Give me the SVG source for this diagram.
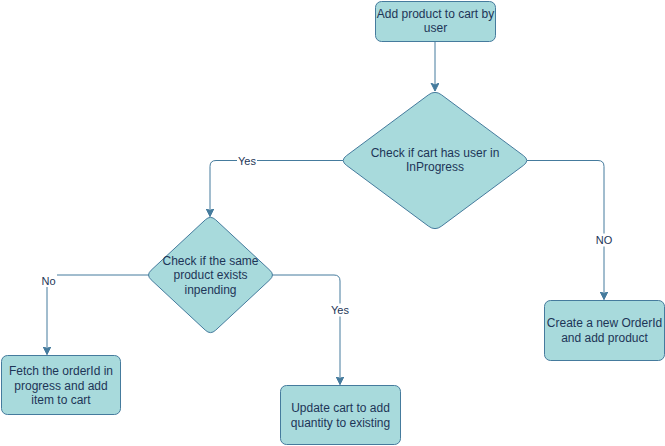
<svg xmlns="http://www.w3.org/2000/svg" width="665" height="446" viewBox="0 0 665 446">
<defs>
<marker id="arr" markerWidth="10" markerHeight="10" refX="8" refY="4" orient="auto" markerUnits="userSpaceOnUse">
<path d="M0,0 L8,4 L0,8 L2,4 Z" fill="#457B9D" stroke="#457B9D" stroke-width="1"/>
</marker>
<style>
.box{fill:#A8DADC;stroke:#457B9D;stroke-width:1}
.t{font-family:"Liberation Sans",Arial,sans-serif;font-size:12px;fill:#1D3557;text-anchor:middle}
.lbl{font-family:"Liberation Sans",Arial,sans-serif;font-size:11px;fill:#1D3557;text-anchor:middle}
.lbg{fill:#ffffff}
.edge{fill:none;stroke:#457B9D;stroke-width:1;marker-end:url(#arr)}
</style>
</defs>
<rect width="665" height="446" fill="#ffffff"/>
<g id="connectors">
<path class="edge" d="M435,41 V91"/>
<path class="edge" d="M343,160.5 H216 Q210,160.5 210,166.5 V216.5"/>
<path class="edge" d="M149,275 H53 Q47,275 47,281 V354.5"/>
<path class="edge" d="M272,275 H334 Q340,275 340,281 V384.5"/>
<path class="edge" d="M527,160.5 H598 Q604,160.5 604,166.5 V299.5"/>
<rect class="lbg" x="237" y="154" width="20" height="13"/>
<text class="lbl" x="247" y="164.5">Yes</text>
<rect class="lbg" x="40" y="274" width="17" height="13"/>
<text class="lbl" x="48.5" y="284.5">No</text>
<rect class="lbg" x="330" y="303.5" width="20" height="13"/>
<text class="lbl" x="340" y="314">Yes</text>
<rect class="lbg" x="595" y="233.5" width="18" height="13"/>
<text class="lbl" x="604" y="244">NO</text>
</g>
<g id="start">
<rect class="box" x="375.5" y="1.5" width="120" height="40" rx="6"/>
<text class="t" x="435.5" y="17.5">Add product to cart by</text>
<text class="t" x="435.5" y="31.5">user</text>
</g>
<g id="decision-cart">
<path class="box" d="M428.58,94.77 Q435,90 441.42,94.77 L523.58,155.73 Q530,160.5 523.58,165.27 L441.42,226.23 Q435,231 428.58,226.23 L346.42,165.27 Q340,160.5 346.42,155.73 Z"/>
<text class="t" x="435" y="157">Check if cart has user in</text>
<text class="t" x="435" y="171">InProgress</text>
</g>
<g id="decision-product">
<path class="box" d="M205.37,219.77 Q210.5,215 215.63,219.77 L269.87,270.23 Q275,275 269.87,279.77 L215.63,330.23 Q210.5,335 205.37,330.23 L151.13,279.77 Q146,275 151.13,270.23 Z"/>
<text class="t" x="210.5" y="264.5">Check if the same</text>
<text class="t" x="210.5" y="279">product exists</text>
<text class="t" x="210.5" y="293.5">inpending</text>
</g>
<g id="fetch">
<rect class="box" x="1.5" y="355.5" width="119" height="59" rx="6"/>
<text class="t" x="61" y="375">Fetch the orderId in</text>
<text class="t" x="61" y="389.5">progress and add</text>
<text class="t" x="61" y="403.5">item to cart</text>
</g>
<g id="update">
<rect class="box" x="280.5" y="385.5" width="120" height="59" rx="6"/>
<text class="t" x="340.5" y="412">Update cart to add</text>
<text class="t" x="340.5" y="427">quantity to existing</text>
</g>
<g id="create">
<rect class="box" x="544.5" y="300.5" width="120" height="60" rx="6"/>
<text class="t" x="604.5" y="327">Create a new OrderId</text>
<text class="t" x="604.5" y="342">and add product</text>
</g>
</svg>
